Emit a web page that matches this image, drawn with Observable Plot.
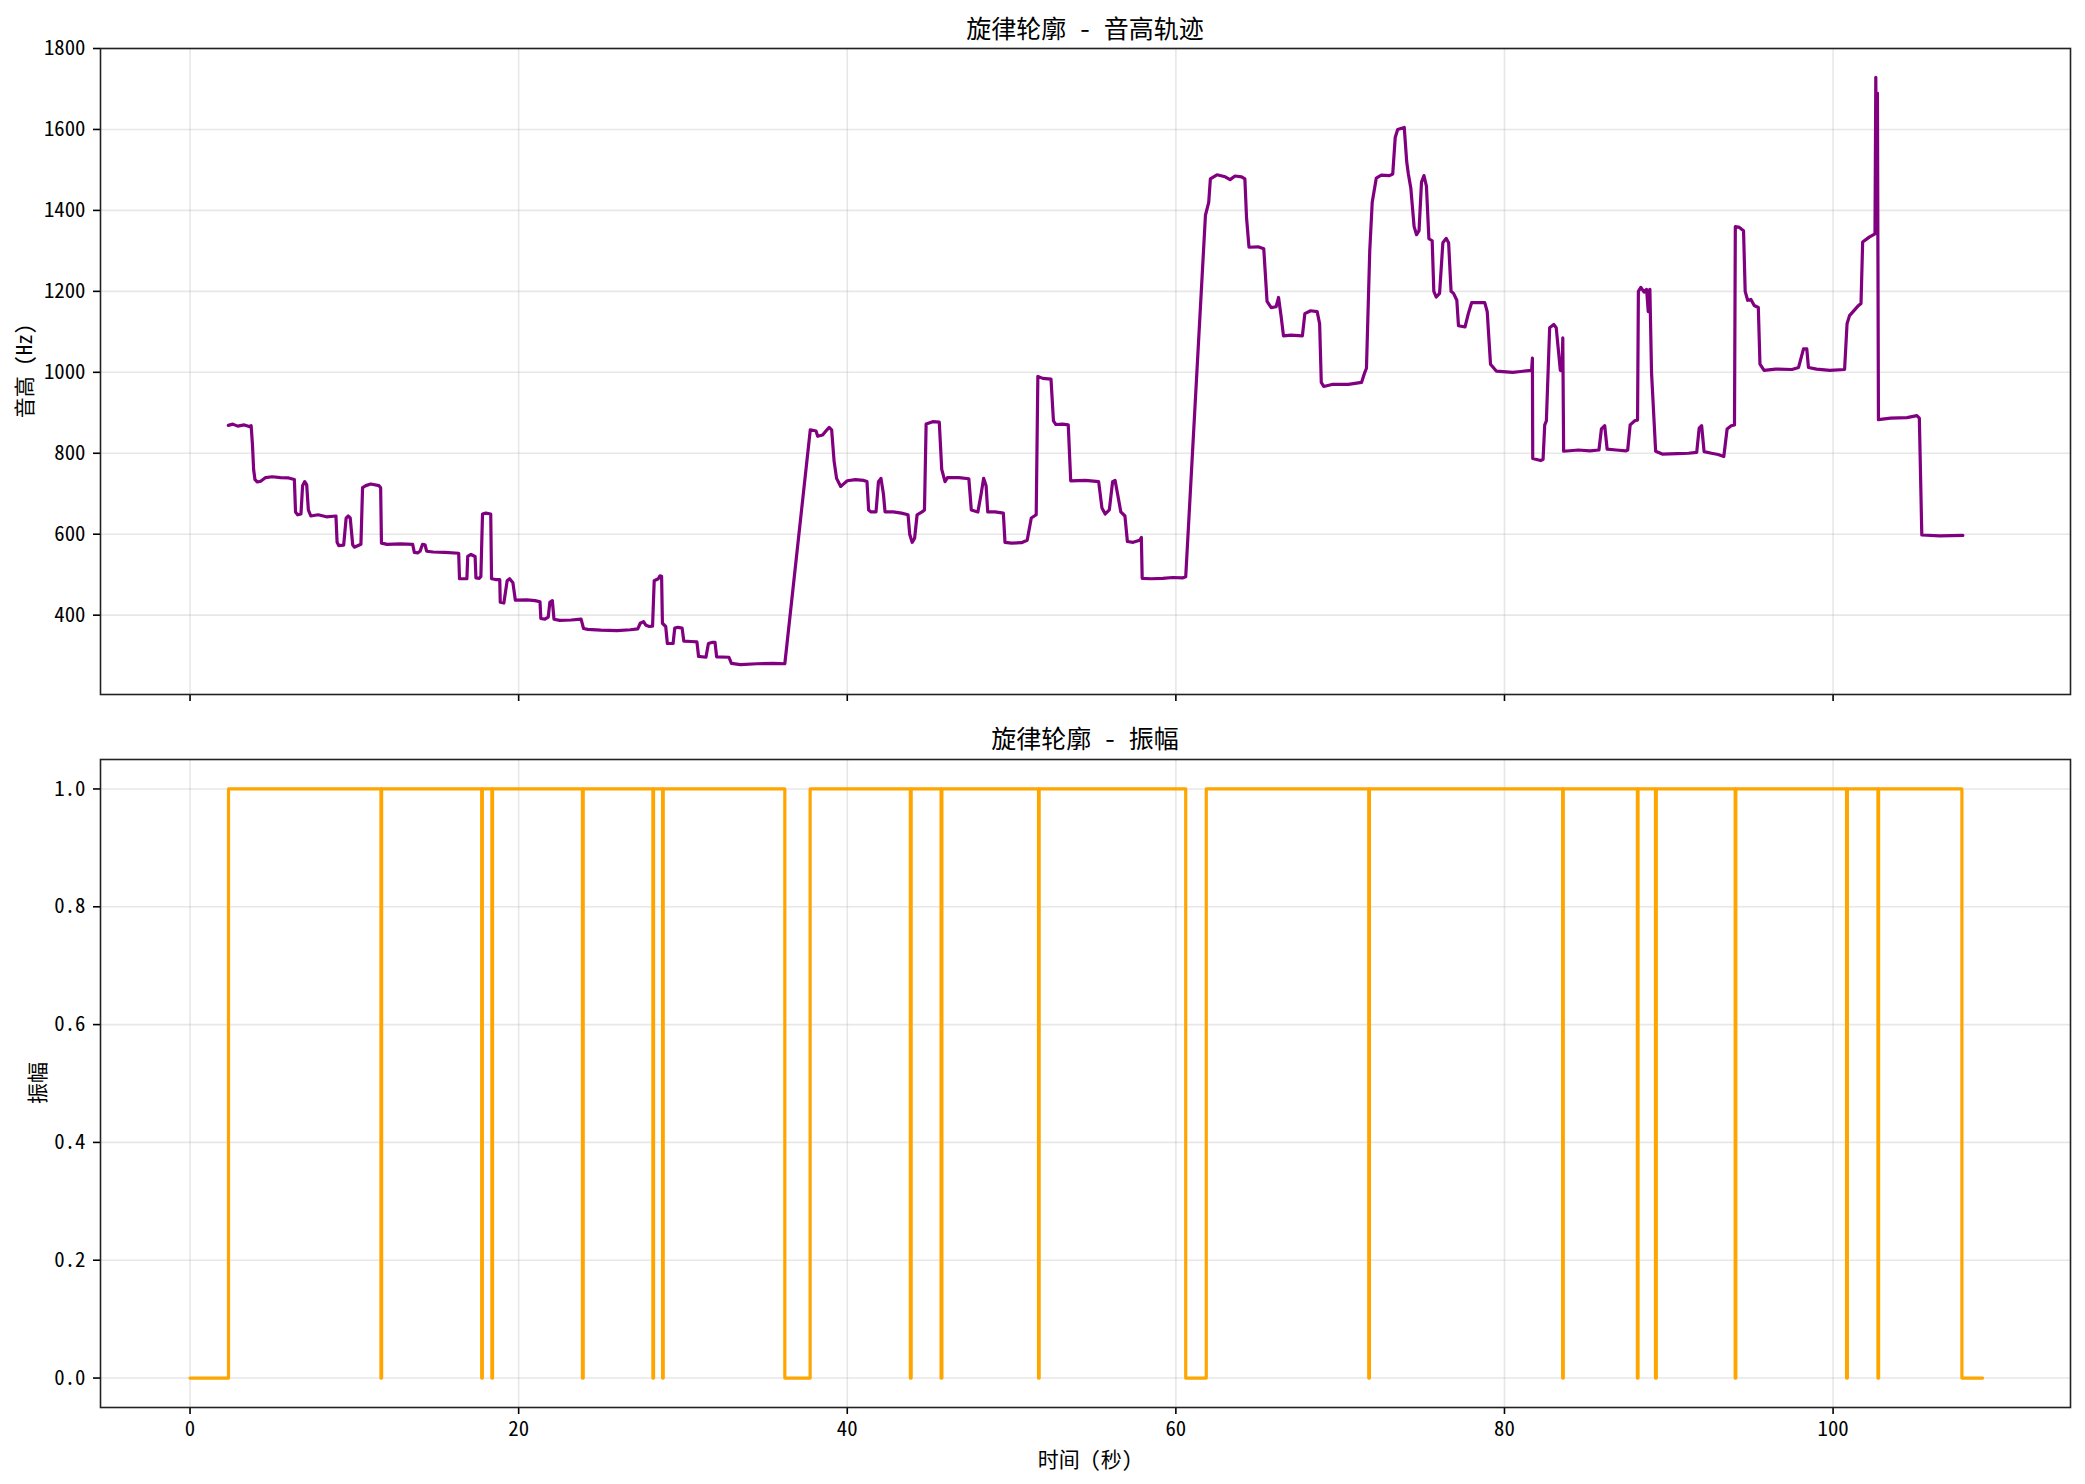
<!DOCTYPE html>
<html>
<head>
<meta charset="utf-8">
<script src="https://cdn.jsdelivr.net/npm/d3@7"></script>
<script src="https://cdn.jsdelivr.net/npm/@observablehq/plot@0.6"></script>
<style>
  html, body { margin: 0; padding: 0; background: #fff; }
  #fig { position: relative; width: 2085px; height: 1484px; background: #fff;
         font-family: "Noto Sans Mono CJK SC", "Noto Sans CJK SC", "DejaVu Sans", sans-serif; color: #000; }
  #fig svg { position: absolute; left: 0; }
  .txt { position: absolute; white-space: pre; line-height: 1; }
  .title { font-size: 25px; transform: translate(-50%, -50%); }
  .xlab { font-size: 21px; transform: translate(-50%, -50%); }
  .ylab { font-size: 21px; transform: translate(-50%, -50%) rotate(-90deg); }
</style>
</head>
<body>
<div id="fig"></div>
<script>
// ---- pitch track (seconds, Hz) ----
const pitchTime = [
  2.33, 2.6, 2.9, 3.3, 3.6, 3.72, 3.8, 3.87, 3.95, 4.1, 4.3, 4.6, 5.0, 5.5, 6.0, 6.35, 6.42, 6.55, 6.75, 6.85,
  6.98, 7.1, 7.2, 7.35, 7.8, 8.3, 8.88, 8.95, 9.05, 9.35, 9.5, 9.62, 9.75, 9.9, 10.0, 10.4, 10.5, 10.7, 11.0, 11.5,
  11.6, 11.65, 12.0, 12.8, 13.55, 13.65, 13.85, 14.0, 14.15, 14.3, 14.4, 14.8, 15.5, 16.35, 16.4, 16.85, 16.9, 17.1, 17.35, 17.4,
  17.6, 17.7, 17.8, 18.0, 18.3, 18.35, 18.6, 18.85, 18.88, 19.1, 19.3, 19.45, 19.65, 19.8, 20.5, 21.0, 21.3, 21.35, 21.6, 21.8,
  21.9, 22.05, 22.15, 22.5, 23.2, 23.8, 23.95, 24.2, 25.0, 26.0, 26.8, 27.25, 27.4, 27.6, 27.75, 27.95, 28.15, 28.25, 28.5, 28.6,
  28.7, 28.75, 28.95, 29.05, 29.4, 29.5, 29.7, 29.95, 30.05, 30.5, 30.85, 30.95, 31.4, 31.55, 31.8, 31.95, 32.05, 32.8, 32.95, 33.5,
  34.5, 35.5, 36.2, 37.75, 38.1, 38.2, 38.5, 38.7, 38.9, 39.05, 39.2, 39.35, 39.6, 39.8, 40.0, 40.5, 41.0, 41.2, 41.3, 41.45,
  41.75, 41.9, 42.05, 42.2, 42.3, 42.8, 43.3, 43.7, 43.8, 43.95, 44.1, 44.25, 44.55, 44.7, 44.8, 45.2, 45.6, 45.75, 45.95, 46.1,
  46.8, 47.4, 47.55, 47.95, 48.15, 48.3, 48.45, 48.55, 49.0, 49.5, 49.6, 50.0, 50.6, 50.95, 51.2, 51.5, 51.6, 51.9, 52.4, 52.55,
  52.7, 53.1, 53.45, 53.6, 54.5, 55.3, 55.5, 55.7, 55.95, 56.15, 56.3, 56.45, 56.65, 56.9, 57.05, 57.4, 57.8, 57.9, 57.95, 58.5,
  59.2, 59.8, 60.4, 60.6, 61.8, 62.0, 62.1, 62.5, 63.0, 63.3, 63.6, 64.0, 64.2, 64.3, 64.45, 65.0, 65.35, 65.55, 65.8, 66.1,
  66.25, 66.4, 66.55, 67.0, 67.7, 67.85, 68.2, 68.6, 68.75, 68.85, 69.0, 69.5, 70.5, 71.3, 71.5, 71.6, 71.8, 71.95, 72.2, 72.5,
  73.0, 73.2, 73.35, 73.5, 73.9, 74.05, 74.15, 74.3, 74.5, 74.65, 74.8, 74.95, 75.1, 75.25, 75.4, 75.6, 75.7, 75.85, 76.05, 76.25,
  76.45, 76.6, 76.75, 76.9, 77.1, 77.2, 77.6, 77.8, 78.0, 78.8, 78.95, 79.15, 79.5, 80.5, 81.0, 81.65, 81.7, 81.72, 82.2, 82.35,
  82.45, 82.55, 82.75, 83.0, 83.15, 83.4, 83.5, 83.55, 83.6, 84.5, 85.2, 85.75, 85.9, 86.1, 86.25, 86.8, 87.4, 87.5, 87.65, 87.95,
  88.1, 88.15, 88.3, 88.5, 88.65, 88.75, 88.85, 88.95, 89.2, 89.6, 90.5, 91.2, 91.7, 91.85, 92.0, 92.15, 92.6, 93.0, 93.35, 93.55,
  93.8, 94.0, 94.05, 94.3, 94.55, 94.65, 94.8, 95.0, 95.2, 95.45, 95.55, 95.8, 96.5, 97.5, 97.9, 98.2, 98.4, 98.5, 99.0, 99.8,
  100.7, 100.85, 101.0, 101.5, 101.7, 101.8, 102.2, 102.55, 102.6, 102.66, 102.7, 102.76, 103.5, 104.5, 105.1, 105.25, 105.4, 106.5, 107.9
];
const pitchHz = [
  869, 872, 867, 870, 866, 868, 820, 760, 735, 729, 731, 740, 742, 740, 739, 735, 655, 648, 650, 720,
  730, 722, 660, 645, 648, 643, 645, 580, 572, 573, 640, 645, 640, 574, 568, 575, 715, 720, 724, 720,
  715, 578, 575, 576, 575, 555, 554, 558, 575, 574, 558, 556, 555, 553, 490, 490, 545, 550, 545, 492,
  491, 495, 650, 652, 650, 490, 488, 488, 432, 430, 485, 490, 480, 437, 438, 436, 433, 392, 390, 395,
  432, 436, 390, 387, 388, 390, 367, 365, 363, 362, 364, 366, 380, 384, 375, 372, 373, 485, 490, 497,
  496, 380, 372, 330, 330, 368, 370, 368, 336, 335, 334, 298, 296, 330, 333, 333, 297, 296, 281, 278,
  280, 281, 280, 858, 855, 842, 845, 855, 864, 858, 780, 738, 718, 725, 732, 735, 733, 730, 660, 655,
  655, 730, 738, 700, 655, 655, 652, 648, 600, 580, 590, 648, 655, 660, 872, 878, 877, 760, 730, 740,
  740, 737, 660, 655, 700, 738, 720, 655, 655, 652, 580, 578, 579, 585, 640, 648, 990, 985, 983, 880,
  871, 872, 870, 732, 733, 730, 665, 650, 660, 730, 733, 700, 655, 645, 582, 580, 585, 592, 491, 490,
  491, 493, 492, 495, 1388, 1420, 1478, 1488, 1483, 1476, 1485, 1483, 1478, 1383, 1309, 1310, 1305, 1175, 1160, 1162,
  1185, 1140, 1090, 1092, 1090, 1145, 1152, 1150, 1120, 975, 965, 970, 970, 975, 1000, 1010, 1300, 1420, 1480, 1487,
  1486, 1490, 1580, 1600, 1605, 1520, 1490, 1455, 1360, 1340, 1350, 1470, 1486, 1460, 1330, 1325, 1200, 1186, 1195, 1320,
  1331, 1320, 1200, 1195, 1178, 1115, 1112, 1145, 1172, 1172, 1150, 1020, 1003, 1000, 1002, 1005, 1035, 787, 782, 785,
  870, 880, 1110, 1118, 1110, 1005, 1003, 1085, 805, 808, 806, 808, 860, 868, 810, 808, 806, 808, 870, 881,
  882, 1200, 1210, 1198, 1205, 1150, 1205, 1000, 805, 798, 799, 800, 802, 862, 868, 804, 800, 797, 792, 860,
  868, 870, 1360, 1358, 1350, 1200, 1178, 1180, 1165, 1160, 1020, 1005, 1008, 1007, 1012, 1058, 1058, 1012, 1008, 1005,
  1007, 1120, 1140, 1163, 1170, 1322, 1334, 1342, 1729, 1350, 1690, 883, 887, 888, 893, 887, 598, 596, 597
];

// ---- amplitude: stretches where the envelope falls to 0 (seconds) ----
const silentStart = [0, 11.62, 17.75, 18.37, 23.88, 28.17, 28.76, 36.2, 43.84, 45.71, 51.64, 60.6, 71.74, 83.54, 88.09, 89.19, 94.04, 100.82, 102.73, 107.84];
const silentEnd   = [2.34, 11.66, 17.79, 18.41, 23.93, 28.21, 28.8, 37.74, 43.89, 45.76, 51.68, 61.85, 71.78, 83.58, 88.13, 89.24, 94.08, 100.87, 102.77, 109.1];

// ---- axes ----
const timeTicks = [0, 20, 40, 60, 80, 100];
const pitchTicks = [400, 600, 800, 1000, 1200, 1400, 1600, 1800];
const ampTicks = [0, 0.2, 0.4, 0.6, 0.8, 1.0];
const timeDomain = [-5.45, 114.45];

const pitchRows = pitchTime.map((t, i) => ({t, hz: pitchHz[i]}));

const ampRows = [];
silentStart.forEach((s, i) => {
  const e = silentEnd[i];
  if (i > 0) ampRows.push({t: s, a: 1});
  ampRows.push({t: s, a: 0}, {t: e, a: 0});
  if (i < silentStart.length - 1) ampRows.push({t: e, a: 1});
});

const FONT = '"Noto Sans Mono CJK SC", "Noto Sans CJK SC", "DejaVu Sans", sans-serif';
const gridStyle = {stroke: "#b0b0b0", strokeOpacity: 0.3, strokeWidth: 1.6};
const fig = document.getElementById("fig");

function panel({top, height, marginTop, marginBottom, yDomain, yTicks, yFormat, rows, y, color, showTimeLabels}) {
  const svg = Plot.plot({
    width: 2085, height,
    marginLeft: 100, marginRight: 15, marginTop, marginBottom,
    style: {fontFamily: FONT, fontSize: "20.8px", color: "#000", background: "transparent", overflow: "visible"},
    x: {domain: timeDomain},
    y: {domain: yDomain},
    marks: [
      Plot.gridX({ticks: timeTicks, ...gridStyle}),
      Plot.gridY({ticks: yTicks, ...gridStyle}),
      Plot.line(rows, {x: "t", y, stroke: color, strokeWidth: 3.2, strokeLinejoin: "round"}),
      Plot.axisX({ticks: timeTicks, tickSize: 7, tickPadding: 7, strokeWidth: 1.6, label: null,
                  tickFormat: showTimeLabels ? d3.format("d") : () => ""}),
      Plot.axisY({ticks: yTicks, tickSize: 7, tickPadding: 8, strokeWidth: 1.6, label: null, tickFormat: yFormat}),
      Plot.frame({stroke: "#222", strokeWidth: 1.6})
    ]
  });
  svg.style.top = top + "px";
  fig.appendChild(svg);
}

panel({top: 0, height: 720, marginTop: 48, marginBottom: 26, yDomain: [204, 1800], yTicks: pitchTicks,
       yFormat: d3.format("d"), rows: pitchRows, y: "hz", color: "purple", showTimeLabels: false});
panel({top: 720, height: 764, marginTop: 39, marginBottom: 77, yDomain: [-0.05, 1.05], yTicks: ampTicks,
       yFormat: d3.format(".1f"), rows: ampRows, y: "a", color: "orange", showTimeLabels: true});

function label(text, cls, x, y) {
  const d = document.createElement("div");
  d.className = "txt " + cls;
  d.textContent = text;
  d.style.left = x + "px";
  d.style.top = y + "px";
  fig.appendChild(d);
}
label("旋律轮廓 - 音高轨迹", "title", 1085, 27);
label("旋律轮廓 - 振幅", "title", 1085, 737);
label("音高 (Hz)", "ylab", 23, 371);
label("振幅", "ylab", 36, 1083);
label("时间 (秒)", "xlab", 1085, 1458);
</script>
</body>
</html>
